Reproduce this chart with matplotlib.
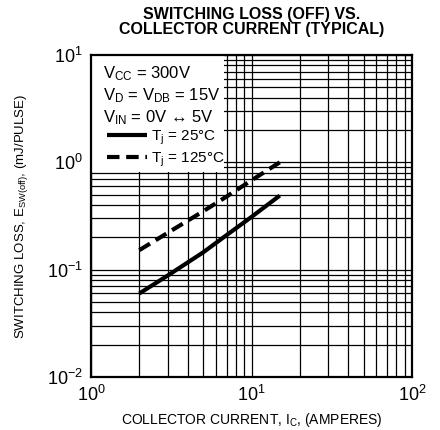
import matplotlib
matplotlib.use('Agg')
import matplotlib.pyplot as plt
from matplotlib.patches import Rectangle

plt.rcParams['font.family'] = ['Liberation Sans', 'DejaVu Sans']
plt.rcParams['mathtext.fontset'] = 'custom'
plt.rcParams['mathtext.rm'] = 'Liberation Sans'
plt.rcParams['mathtext.it'] = 'Liberation Sans'
plt.rcParams['mathtext.default'] = 'regular'

# data
ic = [2, 3, 5, 7, 10, 15]
loss_25 = [0.060, 0.088, 0.145, 0.21, 0.31, 0.49]
loss_125 = [0.152, 0.22, 0.35, 0.48, 0.68, 1.0]

fig = plt.figure(figsize=(4.4, 4.3), dpi=100)
ax = fig.add_axes([91/440, 1 - 377/430, 321/440, 322/430])

ax.plot(ic, loss_25, color='black', lw=3, solid_capstyle='butt', label='T$_j$ = 25°C', zorder=3)
ax.plot(ic, loss_125, color='black', lw=3, dashes=(3.0, 1.6), label='T$_j$ = 125°C', zorder=3)

ax.set_xscale('log')
ax.set_yscale('log')
ax.set_xlim(1, 100)
ax.set_ylim(0.01, 10)
ax.grid(which='both', color='black', lw=0.9)
ax.tick_params(which='both', length=0, labelsize=13, pad=6)
for s in ax.spines.values():
    s.set_linewidth(1.6)

# white box behind the conditions text
ax.add_patch(Rectangle((0, 0.637), 0.415, 0.363, transform=ax.transAxes,
                       facecolor='white', edgecolor='none', zorder=2))
ax.text(0.037, 0.929, 'V$_{CC}$ = 300V', transform=ax.transAxes, fontsize=12, zorder=4)
ax.text(0.037, 0.860, 'V$_D$ = V$_{DB}$ = 15V', transform=ax.transAxes, fontsize=12, zorder=4)
ax.text(0.037, 0.792, 'V$_{IN}$ = 0V \u2194 5V', transform=ax.transAxes, fontsize=12, zorder=4)
leg = ax.legend(loc='upper left', bbox_to_anchor=(0.05, 0.772), frameon=False,
                fontsize=11, handlelength=2.6, handletextpad=0.3,
                labelspacing=0.25, borderpad=0, borderaxespad=0)
leg.set_zorder(5)

ax.set_title('SWITCHING LOSS (OFF) VS.\nCOLLECTOR CURRENT (TYPICAL)',
             fontsize=11.5, fontweight='bold', pad=15, x=0.5, linespacing=1.0)
ax.set_xlabel('COLLECTOR CURRENT, I$_C$, (AMPERES)', fontsize=10, labelpad=4)
ax.set_ylabel('SWITCHING LOSS, E$_{SW(off)}$, (mJ/PULSE)', fontsize=9.5, labelpad=12)

fig.savefig('out.png', dpi=100)
